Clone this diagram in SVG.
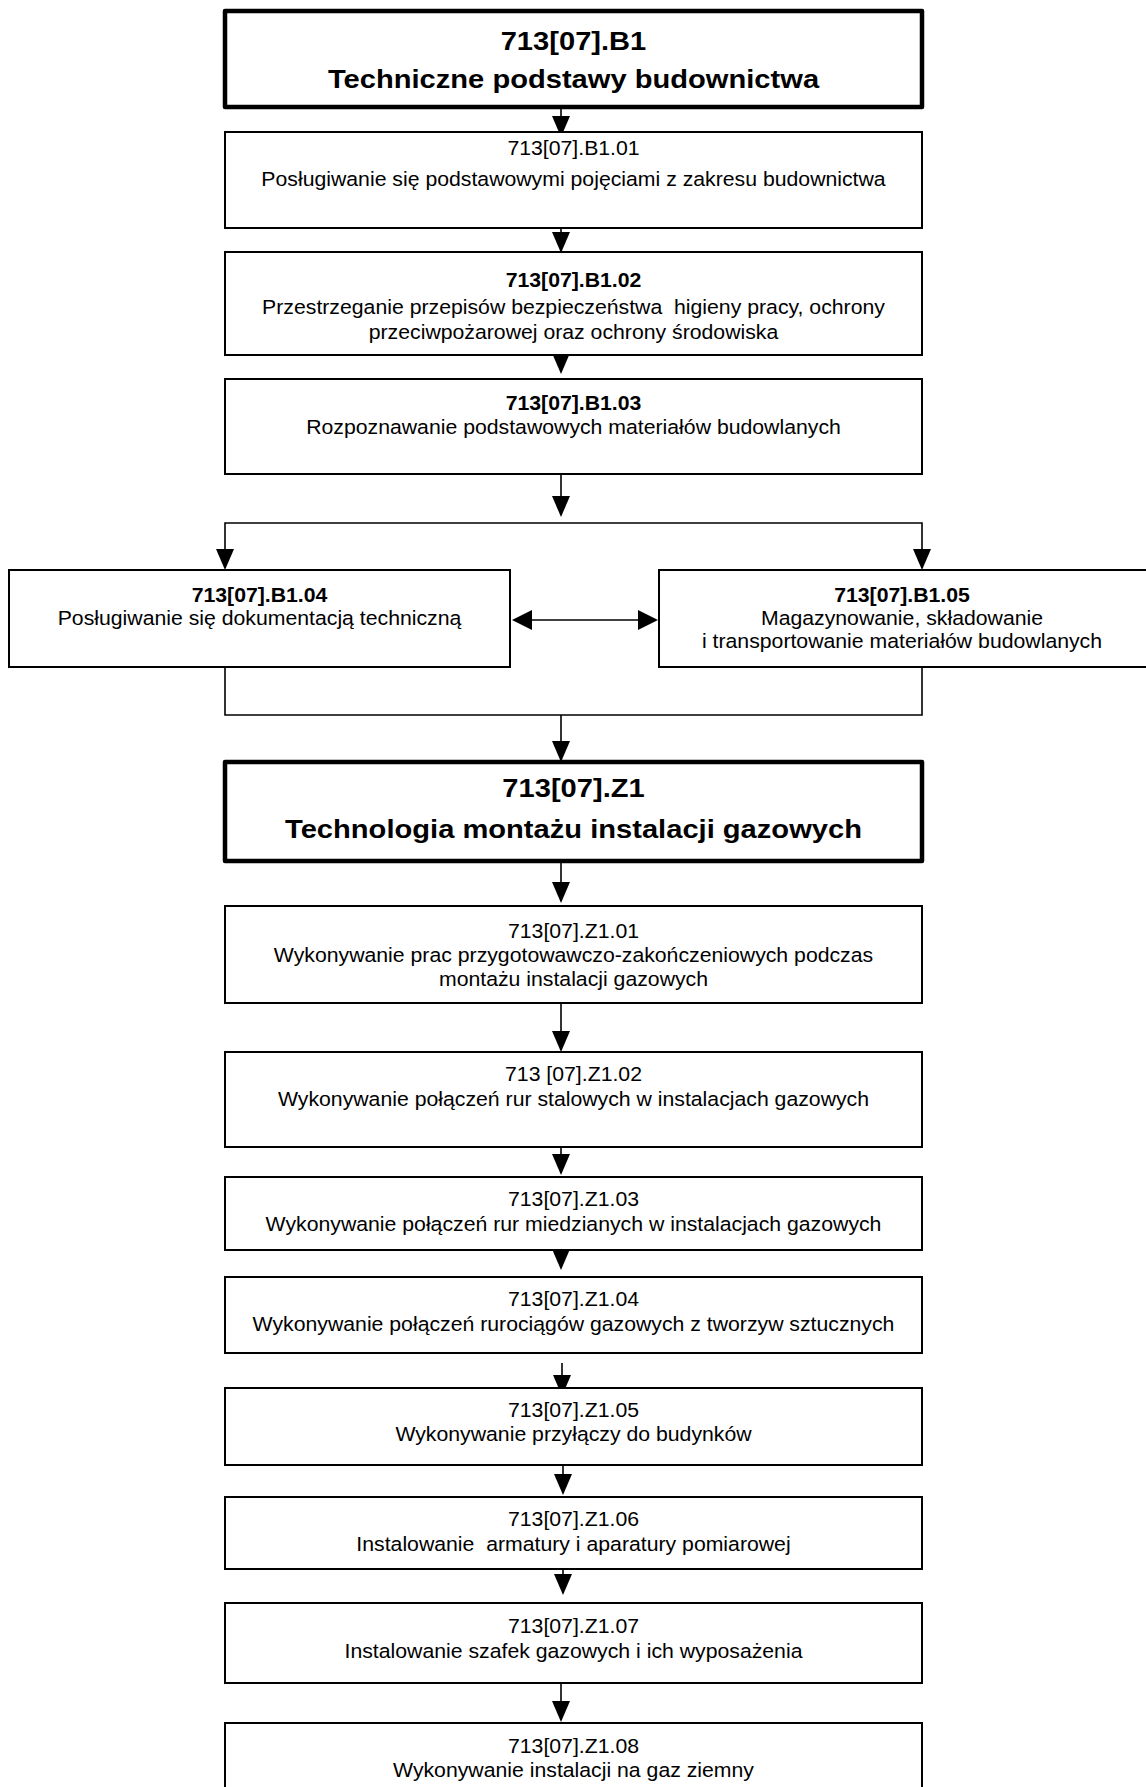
<svg xmlns="http://www.w3.org/2000/svg" xmlns:xlink="http://www.w3.org/1999/xlink" width="1146" height="1787" viewBox="0 0 1146 1787">
<style>
  .bg{fill:#fff}
  .box{fill:#fff;stroke:#000;stroke-width:2}
  .tbox{fill:#fff;stroke:#000;stroke-width:4.5;stroke-linejoin:round}
  .ln{fill:none;stroke:#000;stroke-width:1.6}
  .ah{fill:#000}
  text{font-family:"Liberation Sans",Arial,sans-serif;fill:#000;text-anchor:middle;white-space:pre}
  .t{font-size:19.5px}
  .tb{font-size:19.5px;font-weight:bold}
  .h{font-size:26px;font-weight:bold}
</style>
<defs>
  <path id="ahd" d="M-9,-21 L9,-21 L0,0 Z"/>
  <path id="ahl" d="M0,0 L20,-10 L20,10 Z"/>
  <path id="ahr" d="M0,0 L-20,-10 L-20,10 Z"/>
</defs>
<rect class="bg" x="0" y="0" width="1146" height="1787"/>

<g id="connectors">
  <line class="ln" x1="561" y1="107" x2="561" y2="120"/><use href="#ahd" class="ah" x="561" y="137"/>
  <line class="ln" x1="561" y1="228" x2="561" y2="255"/><use href="#ahd" class="ah" x="561" y="253"/>
  <line class="ln" x1="561" y1="355" x2="561" y2="360"/><use href="#ahd" class="ah" x="561" y="374"/>
  <line class="ln" x1="561" y1="474" x2="561" y2="505"/><use href="#ahd" class="ah" x="561" y="517"/>
  <polyline class="ln" points="225,556 225,523 922,523 922,556"/>
  <use href="#ahd" class="ah" x="225" y="570"/>
  <use href="#ahd" class="ah" x="922" y="570"/>
  <line class="ln" x1="525" y1="620" x2="645" y2="620"/>
  <use href="#ahl" class="ah" x="512" y="620"/>
  <use href="#ahr" class="ah" x="658" y="620"/>
  <polyline class="ln" points="225,667 225,715 922,715 922,667"/>
  <line class="ln" x1="561" y1="715" x2="561" y2="750"/><use href="#ahd" class="ah" x="561" y="762"/>
  <line class="ln" x1="561" y1="861" x2="561" y2="890"/><use href="#ahd" class="ah" x="561" y="903"/>
  <line class="ln" x1="561" y1="1003" x2="561" y2="1040"/><use href="#ahd" class="ah" x="561" y="1052"/>
  <line class="ln" x1="561" y1="1148" x2="561" y2="1165"/><use href="#ahd" class="ah" x="561" y="1175"/>
  <line class="ln" x1="561" y1="1243" x2="561" y2="1260"/><use href="#ahd" class="ah" x="561" y="1270"/>
  <line class="ln" x1="562" y1="1363" x2="562" y2="1385"/><use href="#ahd" class="ah" x="562" y="1396"/>
  <line class="ln" x1="563" y1="1463" x2="563" y2="1485"/><use href="#ahd" class="ah" x="563" y="1495"/>
  <line class="ln" x1="563" y1="1565" x2="563" y2="1585"/><use href="#ahd" class="ah" x="563" y="1595"/>
  <line class="ln" x1="561" y1="1675" x2="561" y2="1710"/><use href="#ahd" class="ah" x="561" y="1722"/>
</g>

<g id="B1">
  <rect class="tbox" x="225" y="11" width="697" height="96"/>
  <g transform="translate(573.5 0) scale(1.12 1)">
    <text class="h" x="0" y="50">713[07].B1</text>
    <text class="h" x="0" y="88">Techniczne podstawy budownictwa</text>
  </g>
</g>
<g id="B1.01">
  <rect class="box" x="225" y="132" width="697" height="96"/>
  <g transform="translate(573.5 0) scale(1.09 1)">
    <text class="t" x="0" y="155">713[07].B1.01</text>
    <text class="t" x="0" y="186">Posługiwanie się podstawowymi pojęciami z zakresu budownictwa</text>
  </g>
</g>
<g id="B1.02">
  <rect class="box" x="225" y="252" width="697" height="103"/>
  <g transform="translate(573.5 0) scale(1.09 1)">
    <text class="tb" x="0" y="287">713[07].B1.02</text>
    <text class="t" x="0" y="314">Przestrzeganie przepisów bezpieczeństwa  higieny pracy, ochrony</text>
    <text class="t" x="0" y="339">przeciwpożarowej oraz ochrony środowiska</text>
  </g>
</g>
<g id="B1.03">
  <rect class="box" x="225" y="379" width="697" height="95"/>
  <g transform="translate(573.5 0) scale(1.09 1)">
    <text class="tb" x="0" y="410">713[07].B1.03</text>
    <text class="t" x="0" y="434">Rozpoznawanie podstawowych materiałów budowlanych</text>
  </g>
</g>
<g id="B1.04">
  <rect class="box" x="9" y="570" width="501" height="97"/>
  <g transform="translate(259.5 0) scale(1.09 1)">
    <text class="tb" x="0" y="602">713[07].B1.04</text>
    <text class="t" x="0" y="625">Posługiwanie się dokumentacją techniczną</text>
  </g>
</g>
<g id="B1.05">
  <rect class="box" x="659" y="570" width="500" height="97"/>
  <g transform="translate(902 0) scale(1.09 1)">
    <text class="tb" x="0" y="602">713[07].B1.05</text>
    <text class="t" x="0" y="625">Magazynowanie, składowanie</text>
    <text class="t" x="0" y="648">i transportowanie materiałów budowlanych</text>
  </g>
</g>
<g id="Z1">
  <rect class="tbox" x="225" y="762" width="697" height="99"/>
  <g transform="translate(573.5 0) scale(1.12 1)">
    <text class="h" x="0" y="797">713[07].Z1</text>
    <text class="h" x="0" y="838">Technologia montażu instalacji gazowych</text>
  </g>
</g>
<g id="Z1.01">
  <rect class="box" x="225" y="906" width="697" height="97"/>
  <g transform="translate(573.5 0) scale(1.09 1)">
    <text class="t" x="0" y="938">713[07].Z1.01</text>
    <text class="t" x="0" y="962">Wykonywanie prac przygotowawczo-zakończeniowych podczas</text>
    <text class="t" x="0" y="986">montażu instalacji gazowych</text>
  </g>
</g>
<g id="Z1.02">
  <rect class="box" x="225" y="1052" width="697" height="95"/>
  <g transform="translate(573.5 0) scale(1.09 1)">
    <text class="t" x="0" y="1081">713 [07].Z1.02</text>
    <text class="t" x="0" y="1106">Wykonywanie połączeń rur stalowych w instalacjach gazowych</text>
  </g>
</g>
<g id="Z1.03">
  <rect class="box" x="225" y="1177" width="697" height="73"/>
  <g transform="translate(573.5 0) scale(1.09 1)">
    <text class="t" x="0" y="1206">713[07].Z1.03</text>
    <text class="t" x="0" y="1231">Wykonywanie połączeń rur miedzianych w instalacjach gazowych</text>
  </g>
</g>
<g id="Z1.04">
  <rect class="box" x="225" y="1277" width="697" height="76"/>
  <g transform="translate(573.5 0) scale(1.09 1)">
    <text class="t" x="0" y="1306">713[07].Z1.04</text>
    <text class="t" x="0" y="1331">Wykonywanie połączeń rurociągów gazowych z tworzyw sztucznych</text>
  </g>
</g>
<g id="Z1.05">
  <rect class="box" x="225" y="1388" width="697" height="77"/>
  <g transform="translate(573.5 0) scale(1.09 1)">
    <text class="t" x="0" y="1417">713[07].Z1.05</text>
    <text class="t" x="0" y="1441">Wykonywanie przyłączy do budynków</text>
  </g>
</g>
<g id="Z1.06">
  <rect class="box" x="225" y="1497" width="697" height="72"/>
  <g transform="translate(573.5 0) scale(1.09 1)">
    <text class="t" x="0" y="1526">713[07].Z1.06</text>
    <text class="t" x="0" y="1551">Instalowanie  armatury i aparatury pomiarowej</text>
  </g>
</g>
<g id="Z1.07">
  <rect class="box" x="225" y="1603" width="697" height="80"/>
  <g transform="translate(573.5 0) scale(1.09 1)">
    <text class="t" x="0" y="1633">713[07].Z1.07</text>
    <text class="t" x="0" y="1658">Instalowanie szafek gazowych i ich wyposażenia</text>
  </g>
</g>
<g id="Z1.08">
  <rect class="box" x="225" y="1723" width="697" height="90"/>
  <g transform="translate(573.5 0) scale(1.09 1)">
    <text class="t" x="0" y="1753">713[07].Z1.08</text>
    <text class="t" x="0" y="1777">Wykonywanie instalacji na gaz ziemny</text>
  </g>
</g>
</svg>
